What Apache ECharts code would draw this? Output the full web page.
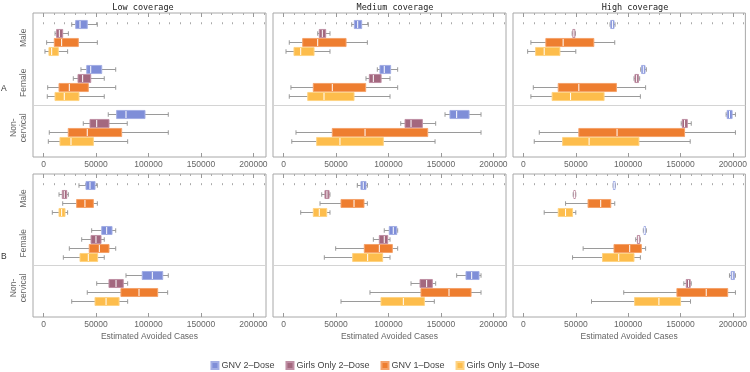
<!DOCTYPE html>
<html>
<head>
<meta charset="utf-8">
<script src="https://cdn.jsdelivr.net/npm/echarts@6/dist/echarts.min.js"></script>
<style>
  html, body { margin: 0; padding: 0; background: #fff; }
  #chart { width: 750px; height: 372px; }
</style>
</head>
<body>
<div id="chart"></div>
<script>
const coverages = ["Low coverage", "Medium coverage", "High coverage"];
const rowLabels = ["A", "B"];
const groups = ["Male", "Female", "Non-\ncervical"];
const strategies = ["GNV 2–Dose", "Girls Only 2–Dose", "GNV 1–Dose", "Girls Only 1–Dose"];
const colors = ["#7f8ed8", "#a3687f", "#ee7e30", "#fdbd4c"];
const edgeColors = ["#a3aee4", "#bf8fa4", "#f4a26a", "#fed383"];
const xTickLabels = [0, 50000, 100000, 150000, 200000];
const xMinorTicks = [0, 10000, 20000, 30000, 40000, 50000, 60000, 70000, 80000, 90000, 100000,
  110000, 120000, 130000, 140000, 150000, 160000, 170000, 180000, 190000, 200000, 210000];

// per strategy (GNV2, GO2, GNV1, GO1): Male, Female, Non-cervical
// each entry: [whisker low, Q1, median, Q3, whisker high]
const lowA = [
  [[26900, 30700, 34800, 41700, 51300], [35700, 41200, 45000, 55500, 68800], [61700, 69700, 78600, 96700, 118900]],
  [[11000, 12500, 15100, 18300, 23700], [28400, 32900, 37300, 45000, 57900], [37900, 44300, 50700, 62400, 79800]],
  [[3000, 10300, 17300, 33200, 51300], [4000, 14800, 24600, 42700, 68800], [5500, 23600, 41700, 74500, 118900]],
  [[1400, 5200, 7800, 14100, 23000], [3600, 11000, 19800, 33800, 57900], [4600, 15700, 26200, 47500, 80200]]
];
const medA = [
  [[65000, 67500, 70700, 74500, 80800], [89400, 91900, 96000, 102100, 108800], [153900, 158600, 165000, 176800, 188200]],
  [[32600, 34100, 37000, 40200, 44300], [78600, 81800, 85600, 93000, 101500], [111700, 115800, 121500, 132300, 145000]],
  [[5500, 18300, 32600, 59600, 79900], [7100, 28400, 46500, 78300, 108800], [11900, 46500, 77700, 137400, 188200]],
  [[2400, 10000, 16400, 29100, 44300], [5500, 23100, 38600, 67200, 101500], [7900, 31600, 53800, 95100, 144400]]
];
const highA = [
  [[82700, 83400, 85000, 86500, 87500], [112000, 112900, 114500, 116100, 117400], [193600, 194600, 196800, 199300, 202500]],
  [[46500, 47200, 48100, 49100, 49700], [105600, 106500, 108100, 109800, 111000], [150700, 151700, 153900, 156500, 160300]],
  [[7100, 21400, 37900, 67200, 87200], [9400, 33200, 52900, 88800, 116700], [15100, 52900, 89400, 153900, 202500]],
  [[4000, 11600, 19800, 34800, 50000], [7100, 27400, 45000, 77000, 111700], [10300, 37400, 62700, 110300, 159300]]
];
const lowB = [
  [[33800, 40500, 44300, 49100, 51300], [45900, 55500, 60200, 65300, 68800], [78600, 94100, 103700, 113600, 118900]],
  [[14800, 17900, 19800, 22100, 23700], [36400, 45300, 50000, 54800, 57900], [50700, 62400, 69100, 76000, 80200]],
  [[18300, 31600, 39500, 47500, 51300], [24600, 43600, 53200, 62400, 68800], [41700, 73800, 91000, 108800, 118300]],
  [[8400, 14800, 17300, 20500, 23000], [18900, 34800, 42700, 51600, 57900], [26900, 49100, 59600, 72000, 80200]]
];
const medB = [
  [[70300, 73800, 76000, 78600, 79900], [96000, 100800, 104600, 107900, 108800], [165000, 173900, 179300, 186300, 188200]],
  [[36400, 39500, 41400, 43400, 44300], [85600, 91300, 96000, 99300, 101500], [121500, 130100, 136400, 141800, 145000]],
  [[34800, 54800, 67200, 76700, 79900], [49700, 77000, 91300, 103700, 108800], [82400, 131000, 157700, 178700, 188200]],
  [[16400, 28400, 34100, 41200, 44300], [38900, 65900, 80200, 94500, 101500], [54800, 92900, 114200, 134200, 143700]]
];
const highB = [
  [[85600, 85900, 86700, 87500, 87800], [114500, 115200, 115800, 116600, 117400], [196800, 198400, 199900, 201500, 202500]],
  [[47500, 48200, 48800, 49400, 50000], [107200, 108800, 110000, 111000, 111700], [153200, 155500, 157700, 159300, 160300]],
  [[40200, 61700, 73800, 83400, 87200], [57000, 86500, 101500, 112600, 116700], [95800, 146600, 174600, 195100, 202500]],
  [[19800, 33200, 40200, 46900, 50000], [46900, 75500, 91000, 105600, 111700], [65000, 106200, 129400, 150100, 159600]]
];

const panels = [[lowA, medA, highA], [lowB, medB, highB]];
const groupCenters = [1.5, 6.5, 11.5];
const FONT = "'Liberation Sans', Arial, sans-serif";

function renderBox(params, api) {
  const y = api.value(0);
  const lo = api.coord([api.value(1), y]);
  const q1 = api.coord([api.value(2), y]);
  const md = api.coord([api.value(3), y]);
  const q3 = api.coord([api.value(4), y]);
  const hi = api.coord([api.value(5), y]);
  const slot = api.size([0, 1])[1];
  const bh = slot * 0.9;
  const ch = slot * 0.5;
  const cy = Math.round(lo[1]) + 0.5;
  const ws = { stroke: "#9a9a9a", lineWidth: 1 };
  const si = params.seriesIndex % 4;
  return {
    type: "group",
    children: [
      { type: "line", shape: { x1: lo[0], y1: cy, x2: q1[0], y2: cy }, style: ws },
      { type: "line", shape: { x1: q3[0], y1: cy, x2: hi[0], y2: cy }, style: ws },
      { type: "line", shape: { x1: lo[0], y1: cy - ch / 2, x2: lo[0], y2: cy + ch / 2 }, style: ws },
      { type: "line", shape: { x1: hi[0], y1: cy - ch / 2, x2: hi[0], y2: cy + ch / 2 }, style: ws },
      {
        type: "rect",
        shape: { x: q1[0], y: cy - bh / 2, width: Math.max(q3[0] - q1[0], 1), height: bh },
        style: { fill: colors[si], stroke: edgeColors[si], lineWidth: 1 }
      },
      { type: "line", shape: { x1: md[0], y1: cy - bh / 2 + 0.5, x2: md[0], y2: cy + bh / 2 - 0.5 },
        style: { stroke: "#fff", lineWidth: 1 } }
    ]
  };
}

const grids = [], xAxes = [], yAxes = [], series = [], graphics = [];

panels.forEach((row, r) => {
  row.forEach((panel, c) => {
    const gi = grids.length;
    grids.push({
      left: 33 + 240 * c, top: r ? 174 : 13, width: 233, height: r ? 143 : 144,
      show: true, borderColor: "#a8a8a8", borderWidth: 1
    });
    const base = { type: "value", gridIndex: gi, min: -10000, max: 212000,
      axisLine: { show: false }, splitLine: { show: false } };
    const mainX = xAxes.length;
    xAxes.push(Object.assign({}, base, {
      position: "bottom",
      axisTick: { inside: true, length: 2, customValues: xMinorTicks, lineStyle: { color: "#aaa" } },
      axisLabel: { customValues: xTickLabels, margin: 3, fontSize: 8.5, color: "#666", fontFamily: FONT,
        formatter: (v) => String(v) },
      name: r ? "Estimated Avoided Cases" : "",
      nameLocation: "middle", nameGap: 15,
      nameTextStyle: { fontSize: 8.5, color: "#666", fontFamily: FONT }
    }));
    xAxes.push(Object.assign({}, base, {
      position: "bottom",
      axisTick: { inside: true, length: 4, customValues: xTickLabels, lineStyle: { color: "#999" } },
      axisLabel: { show: false }
    }));
    xAxes.push(Object.assign({}, base, {
      position: "top",
      axisTick: { inside: true, length: 2, customValues: xMinorTicks, lineStyle: { color: "#aaa" } },
      axisLabel: { show: false }
    }));
    xAxes.push(Object.assign({}, base, {
      position: "top",
      axisTick: { inside: true, length: 4, customValues: xTickLabels, lineStyle: { color: "#999" } },
      axisLabel: { show: false }
    }));
    yAxes.push({
      type: "value", gridIndex: gi, inverse: true, min: -1.25, max: 14.75,
      axisLine: { show: false }, axisTick: { show: false }, splitLine: { show: false },
      axisLabel: {
        show: c === 0, customValues: groupCenters, rotate: 90, margin: 4,
        fontSize: 8.5, color: "#666", fontFamily: FONT, lineHeight: 10, align: "center",
        formatter: (v) => groups[groupCenters.indexOf(v)]
      }
    });
    panel.forEach((boxes, si) => {
      series.push({
        name: strategies[si], type: "custom", xAxisIndex: mainX, yAxisIndex: gi,
        clip: true, renderItem: renderBox,
        itemStyle: { color: colors[si], borderColor: edgeColors[si], borderWidth: 1 },
        encode: { x: [1, 2, 3, 4, 5], y: 0 },
        data: boxes.map((b, g) => [g * 5 + si].concat(b)),
        markLine: si === 0 ? {
          silent: true, symbol: "none", label: { show: false },
          lineStyle: { color: "#d4d4d4", type: "solid", width: 1 },
          data: [{ yAxis: 9 }]
        } : undefined
      });
    });
  });
});

const titleCenters = [138, 390, 630];
const titles = coverages.map((t, c) => ({
  text: t, left: titleCenters[c], top: -2, textAlign: "center",
  textStyle: { fontFamily: "'DejaVu Sans Mono', monospace", fontSize: 8.5, fontWeight: "normal", color: "#222" }
}));

rowLabels.forEach((t, r) => {
  graphics.push({
    type: "text", left: 1, top: r ? 252 : 84,
    style: { text: t, fontSize: 8.5, fill: "#333", fontFamily: FONT }
  });
});

const chart = echarts.init(document.getElementById("chart"));
chart.setOption({
  animation: false,
  backgroundColor: "#fff",
  title: titles,
  grid: grids,
  xAxis: xAxes,
  yAxis: yAxes,
  graphic: graphics,
  legend: {
    data: strategies, bottom: 2, left: "center", padding: 0,
    icon: "rect", itemWidth: 7, itemHeight: 7, itemGap: 11,
    textStyle: { fontSize: 9, color: "#444", fontFamily: FONT, padding: [0, 0, 0, -2] }
  },
  series: series
});
</script>
</body>
</html>
